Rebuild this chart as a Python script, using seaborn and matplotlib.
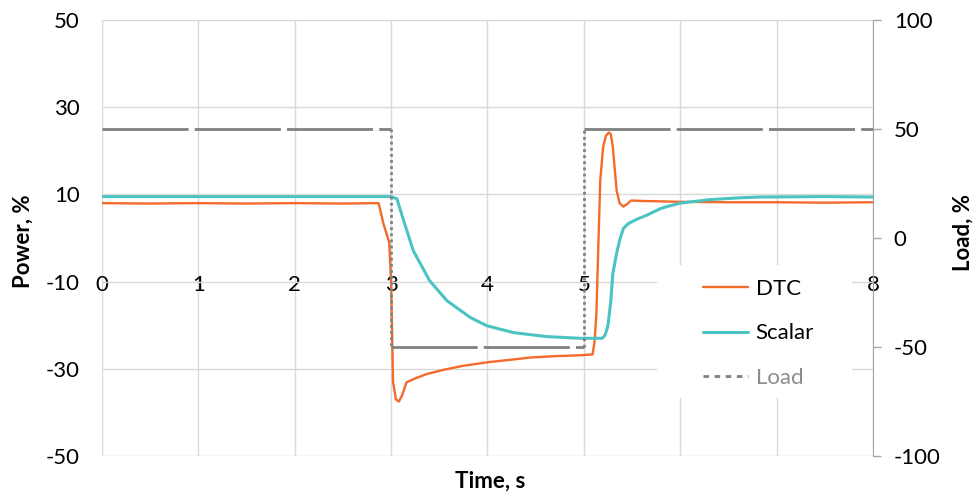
import matplotlib
matplotlib.use("Agg")
import matplotlib.pyplot as plt
import matplotlib.patches as mpatches
from matplotlib.lines import Line2D
import seaborn as sns

# data
dtc_t = [0, 0.5, 1.0, 1.5, 2.0, 2.5, 2.87, 2.92, 2.98, 3.0, 3.02, 3.05, 3.08, 3.11, 3.16,
         3.25, 3.37, 3.55, 3.75, 4.0, 4.25, 4.45, 4.7, 4.96, 5.09, 5.11, 5.13, 5.15, 5.17,
         5.20, 5.23, 5.26, 5.28, 5.30, 5.34, 5.37, 5.41, 5.45, 5.49, 5.6, 6.0, 6.5, 7.0, 7.5, 8.0]
dtc_v = [8.0, 7.9, 8.0, 7.9, 8.0, 7.9, 8.0, 3.3, -1.0, -10.0, -33.0, -37.0, -37.5, -36.3, -33.1,
         -32.2, -31.2, -30.2, -29.3, -28.5, -27.9, -27.4, -27.1, -26.9, -26.7, -24.0, -17.4, -2.0, 13.2,
         20.9, 23.5, 24.2, 23.8, 20.9, 10.9, 8.0, 7.2, 7.8, 8.6, 8.5, 8.3, 8.2, 8.2, 8.1, 8.2]

scalar_t = [0, 3.0, 3.06, 3.13, 3.23, 3.40, 3.58, 3.82, 3.99, 4.27, 4.61, 4.96, 5.19, 5.22,
            5.25, 5.28, 5.30, 5.34, 5.37, 5.41, 5.46, 5.55, 5.65, 5.79, 5.86, 6.0, 6.31, 6.6,
            6.83, 7.5, 8.0]
scalar_v = [9.5, 9.5, 9.0, 4.0, -2.9, -9.8, -14.4, -18.2, -20.1, -21.7, -22.6, -23.0, -23.0, -22.3,
            -20.1, -14.4, -8.2, -3.5, -0.6, 2.2, 3.3, 4.3, 5.2, 6.7, 7.2, 8.0, 8.8, 9.2,
            9.4, 9.5, 9.4]

load_t = [0, 3, 3, 5, 5, 8]
load_v = [50, 50, -50, -50, 50, 50]

x_ticks = [0, 1, 2, 3, 4, 5, 6, 7, 8]
# 6 and 7 sit under the legend box in the original
x_tick_labels = ["0", "1", "2", "3", "4", "5", "", "", "8"]
power_ticks = [-50, -30, -10, 10, 30, 50]
load_ticks = [-100, -50, 0, 50, 100]

c_dtc = "#F26B2A"
c_scalar = "#4CC3C3"
c_load = "#808080"
c_grid = "#D9D9D9"

sns.set_style("white")
plt.rcParams["font.family"] = ["Lato", "DejaVu Sans"]
plt.rcParams["font.size"] = 16
plt.rcParams["axes.unicode_minus"] = False
plt.rcParams["text.color"] = "black"
plt.rcParams["xtick.color"] = "black"
plt.rcParams["ytick.color"] = "black"

fig = plt.figure(figsize=(9.74, 4.96), dpi=100)
ax = fig.add_axes([0.1047, 0.0806, 0.7916, 0.8791])
ax2 = ax.twinx()

sns.lineplot(x=dtc_t, y=dtc_v, ax=ax, color=c_dtc, lw=1.7, estimator=None, sort=False, zorder=3)
sns.lineplot(x=scalar_t, y=scalar_v, ax=ax, color=c_scalar, lw=2.2, estimator=None, sort=False, zorder=3)

# load: horizontal parts long-dashed, jumps dotted
for i in range(len(load_t) - 1):
    seg_t = load_t[i:i + 2]
    seg_v = load_v[i:i + 2]
    if seg_v[0] == seg_v[1]:
        ls = (0, (31, 2.2))
    else:
        ls = (0, (1, 1.2))
    sns.lineplot(x=seg_t, y=seg_v, ax=ax2, color=c_load, lw=2, estimator=None,
                 sort=False, linestyle=ls)

ax.set_xlim(0, 8)
ax.set_ylim(-50, 50)
ax2.set_ylim(-100, 100)

ax.set_xticks(x_ticks)
ax.set_xticklabels(x_tick_labels)
ax.set_yticks(power_ticks)
ax2.set_yticks(load_ticks)
ax.set_axisbelow(True)
ax.grid(True, color=c_grid, lw=1)

for s in ax.spines.values():
    s.set_visible(False)
for s in ["left", "top", "bottom"]:
    ax2.spines[s].set_visible(False)
ax2.spines["right"].set_color("#A6A6A6")

# x labels sit on the -10 line
ax.spines["bottom"].set_position(("data", -10))
ax.tick_params(axis="x", length=0, pad=-5, labelsize=16)
ax.tick_params(axis="y", length=0, pad=16, labelsize=16)
ax2.tick_params(axis="y", length=6, width=1, color="#A6A6A6", pad=9, labelsize=16)

ax.set_xlabel("")
ax.set_ylabel("")
ax2.set_ylabel("")
fig.text(0.503, 0.03, "Time, s", ha="center", va="center", fontweight="bold", fontsize=16)
fig.text(0.0236, 0.514, "Power, %", ha="center", va="center", rotation=90,
         fontweight="bold", fontsize=16)
fig.text(0.9887, 0.532, "Load, %", ha="center", va="center", rotation=90,
         fontweight="bold", fontsize=16)

# white box behind the legend
ax.add_patch(mpatches.Rectangle((0.7204, 0.1326), 0.2525, 0.3057, transform=ax.transAxes,
                                facecolor="white", edgecolor="none", zorder=1))

handles = [Line2D([], [], color=c_dtc, lw=1.7),
           Line2D([], [], color=c_scalar, lw=2.2),
           Line2D([], [], color=c_load, lw=2, linestyle=(0, (2, 2)))]
leg = ax2.legend(handles, ["DTC", "Scalar", "Load"], loc="center",
                 bbox_to_anchor=(0.779, 0.328), bbox_transform=fig.transFigure,
                 frameon=False, fontsize=16, handlelength=2.0, handletextpad=0.35,
                 labelspacing=1.1)
leg.get_texts()[2].set_color("#8C8C8C")

fig.savefig("out.png", dpi=100)
